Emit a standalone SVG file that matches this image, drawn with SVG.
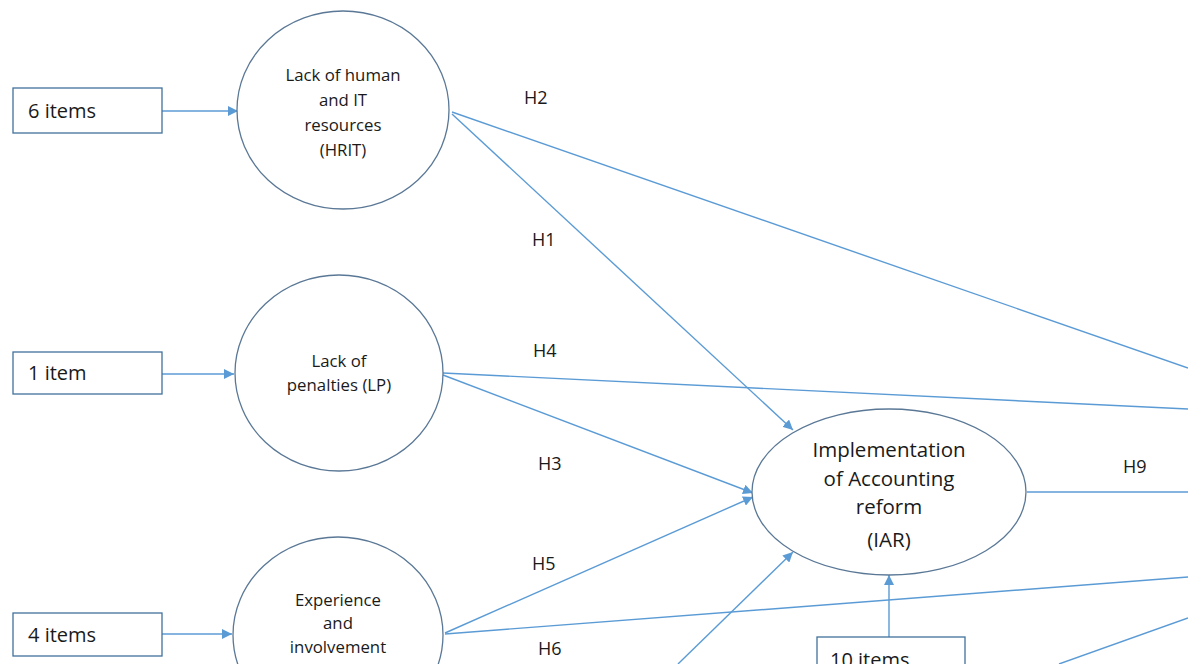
<svg xmlns="http://www.w3.org/2000/svg" width="1188" height="664" viewBox="0 0 1188 664">
<style>
.box{fill:#fff;stroke:#41719C;stroke-width:1.3}
.node{fill:#fff;stroke:#5A7896;stroke-width:1.3}
.edge{fill:none;stroke:#5B9BD5;stroke-width:1.4}
.t{font-family:"Open Sans","Noto Sans",sans-serif;fill:#1a1a1a}
.bt{font-size:20px}
.ct{font-size:16.8px;text-anchor:middle}
.it{font-size:20.5px;text-anchor:middle}
.lb{font-size:18px}
</style>
<defs>
<marker id="ah" viewBox="0 0 10 10" refX="10" refY="5" markerWidth="10" markerHeight="10" markerUnits="userSpaceOnUse" orient="auto">
<path d="M0,0 L10,5 L0,10 z" fill="#5B9BD5"/>
</marker>
</defs>
<rect width="1188" height="664" fill="#fff"/>
<g id="connectors">
<line class="edge" x1="162" y1="111" x2="238" y2="111" marker-end="url(#ah)"/>
<line class="edge" x1="162" y1="374" x2="234" y2="374" marker-end="url(#ah)"/>
<line class="edge" x1="162" y1="634" x2="232" y2="634" marker-end="url(#ah)"/>
<line class="edge" x1="452" y1="114" x2="793" y2="430" marker-end="url(#ah)"/>
<line class="edge" x1="452" y1="112" x2="1188" y2="368"/>
<line class="edge" x1="443" y1="373" x2="1188" y2="409"/>
<line class="edge" x1="443" y1="375" x2="753" y2="493" marker-end="url(#ah)"/>
<line class="edge" x1="445" y1="633" x2="753" y2="497" marker-end="url(#ah)"/>
<line class="edge" x1="445" y1="634" x2="1188" y2="577"/>
<line class="edge" x1="678" y1="664" x2="793" y2="552" marker-end="url(#ah)"/>
<line class="edge" x1="889" y1="637" x2="889" y2="575" marker-end="url(#ah)"/>
<line class="edge" x1="1027" y1="492" x2="1188" y2="492"/>
<line class="edge" x1="1059" y1="664" x2="1188" y2="618"/>
<text class="t lb" x="524" y="104">H2</text>
<text class="t lb" x="532" y="246">H1</text>
<text class="t lb" x="533" y="357">H4</text>
<text class="t lb" x="538" y="470">H3</text>
<text class="t lb" x="532" y="570">H5</text>
<text class="t lb" x="538" y="655">H6</text>
<text class="t lb" x="1123" y="473">H9</text>
</g>
<g id="box-6items">
<rect class="box" x="13" y="88" width="149" height="45"/>
<text class="t bt" x="28" y="118">6 items</text>
</g>
<g id="box-1item">
<rect class="box" x="13" y="352" width="149" height="42"/>
<text class="t bt" x="28" y="380">1 item</text>
</g>
<g id="box-4items">
<rect class="box" x="13" y="613" width="149" height="43"/>
<text class="t bt" x="28" y="642">4 items</text>
</g>
<g id="box-10items">
<rect class="box" x="817" y="637" width="148" height="40"/>
<text class="t bt" x="830" y="667">10 items</text>
</g>
<g id="node-HRIT">
<ellipse class="node" cx="343" cy="110" rx="106" ry="99"/>
<text class="t ct" x="343" y="81">Lack of human</text>
<text class="t ct" x="343" y="106">and IT</text>
<text class="t ct" x="343" y="131">resources</text>
<text class="t ct" x="343" y="156">(HRIT)</text>
</g>
<g id="node-LP">
<ellipse class="node" cx="339" cy="373" rx="104" ry="98"/>
<text class="t ct" x="339" y="367">Lack of</text>
<text class="t ct" x="339" y="391">penalties (LP)</text>
</g>
<g id="node-EXP">
<ellipse class="node" cx="338" cy="635" rx="105" ry="98"/>
<text class="t ct" x="338" y="606">Experience</text>
<text class="t ct" x="338" y="629">and</text>
<text class="t ct" x="338" y="653">involvement</text>
</g>
<g id="node-IAR">
<ellipse class="node" cx="889" cy="492" rx="137" ry="83"/>
<text class="t it" x="889" y="457">Implementation</text>
<text class="t it" x="889" y="486">of Accounting</text>
<text class="t it" x="889" y="514">reform</text>
<text class="t it" x="889" y="547">(IAR)</text>
</g>
</svg>
